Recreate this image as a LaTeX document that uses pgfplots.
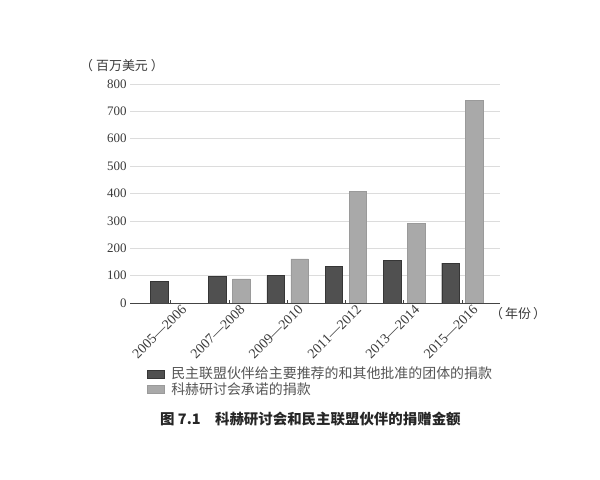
\documentclass[border=0pt]{standalone}
\usepackage{fontspec}
\setmainfont{Liberation Serif}
\newfontfamily\cjk{Noto Sans CJK SC}
\usepackage{pgfplots}
\pgfplotsset{compat=1.18}
\definecolor{darkbar}{HTML}{505050}
\definecolor{darkedge}{HTML}{363636}
\definecolor{lightbar}{HTML}{A9A9A9}
\definecolor{lightedge}{HTML}{9A9A9A}
\definecolor{gridgray}{HTML}{DCDCDC}
\definecolor{axisgray}{HTML}{444444}
\definecolor{textgray}{HTML}{3A3A3A}
\definecolor{legendgray}{HTML}{555555}

\begin{document}
\begin{tikzpicture}[x=1bp,y=1bp]
\path[use as bounding box, fill=white] (0,0) rectangle (600,480);
\begin{axis}[
    at={(130bp,177bp)}, anchor=south west,
    scale only axis, width=370bp, height=219bp,
    xmin=-0.7, xmax=5.65, ymin=0, ymax=800,
    ytick={0,100,...,800},
    xtick={0,...,5},
    xticklabels={2005—2006,2007—2008,2009—2010,2011—2012,2013—2014,2015—2016},
    axis x line*=bottom, axis y line*=left,
    y axis line style={draw=none},
    x axis line style={color=axisgray, line width=0.9pt},
    ytick style={draw=none},
    xtick style={color=axisgray, line width=0.8pt},
    major tick length=3bp,
    ymajorgrids, grid style={color=gridgray, line width=0.7pt},
    /pgf/number format/assume math mode=true,
    yticklabel style={font=\fontsize{13}{13}\selectfont, text=textgray},
    xticklabel style={font=\fontsize{14}{14}\selectfont, text=textgray, rotate=45, anchor=north east, xshift=10bp, yshift=-4bp},
    legend style={at={(axis description cs:0.045,-0.29)}, anchor=north west, draw=none, fill=none,
        font=\cjk\fontsize{14}{16}\selectfont, text=legendgray, row sep=1bp, inner sep=0pt,
        nodes={inner xsep=1bp, inner ysep=0.5bp},
        /tikz/every odd column/.append style={column sep=6bp}},
    legend cell align=left,
    legend image code/.code={\draw[#1] (0bp,-4bp) rectangle (17bp,4bp);},
]
\addplot[ybar, bar width=0.3, bar shift=-0.2, fill=darkbar, draw=darkedge]
    coordinates {(0,79) (1,97) (2,100) (3,134) (4,157) (5,146)};
\addplot[ybar, bar width=0.3, bar shift=0.21, fill=lightbar, draw=lightedge]
    coordinates {(1,88) (2,161) (3,407) (4,290) (5,740)};
\legend{民主联盟伙伴给主要推荐的和其他批准的团体的捐款, 科赫研讨会承诺的捐款}
\end{axis}
\node[anchor=west, inner sep=0pt, font=\cjk\fontsize{13}{13}\selectfont, text=textgray] at (80,414) {（\hspace{3bp}百万美元\hspace{3bp}）};
\node[anchor=west, inner sep=0pt, font=\cjk\fontsize{13}{13}\selectfont, text=textgray] at (490,166) {（\hspace{2bp}年份\hspace{2bp}）};
\node[anchor=west, inner sep=0pt, font=\cjk\bfseries\fontsize{14.5}{15}\selectfont, text=black!85] at (160,61) {图 7.1\hspace{1em}科赫研讨会和民主联盟伙伴的捐赠金额};
\end{tikzpicture}
\end{document}
